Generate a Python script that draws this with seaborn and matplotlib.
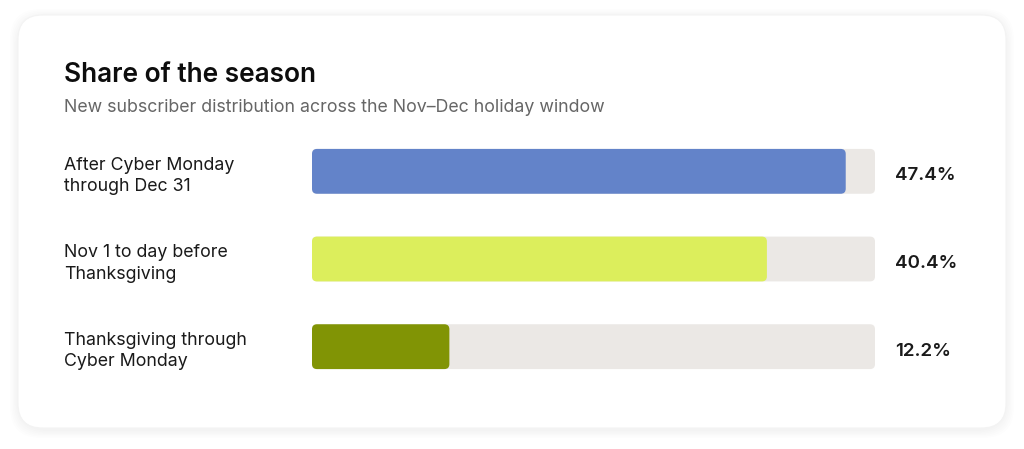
import matplotlib
matplotlib.use("Agg")
import matplotlib.pyplot as plt
import matplotlib.transforms as mtransforms
from matplotlib.patches import FancyBboxPatch
import pandas as pd
import seaborn as sns

# data
categories = ["After Cyber Monday\nthrough Dec 31",
              "Nov 1 to day before\nThanksgiving",
              "Thanksgiving through\nCyber Monday"]
shares = [47.4, 40.4, 12.2]
bar_colors = ["#6383c9", "#dcee5c", "#819405"]
track_max = 50

title = "Share of the season"
subtitle = "New subscriber distribution across the Nov\u2013Dec holiday window"

sns.set_theme(style="white")
plt.rcParams["font.family"] = ["Inter", "DejaVu Sans"]

W, H = 1024, 449
fig = plt.figure(figsize=(W / 100, H / 100), dpi=100)
fig.patch.set_facecolor("white")

# card with soft shadow
for i in range(6):
    g = 8 - i * 1.4
    sh = FancyBboxPatch(((18 - g) / W, (449 - 428 - g - 2) / H), (988 + 2 * g) / W, (413 + 2 * g) / H,
                        boxstyle="round,pad=0,rounding_size=0.03", mutation_aspect=W / H,
                        transform=fig.transFigure, facecolor="black", edgecolor="none",
                        alpha=0.006, zorder=-3)
    fig.patches.append(sh)
card = FancyBboxPatch((18 / W, (449 - 428) / H), 988 / W, 413 / H,
                      boxstyle="round,pad=0,rounding_size=0.024", mutation_aspect=W / H,
                      transform=fig.transFigure, facecolor="white", edgecolor="#f3f3f3",
                      linewidth=0.8, zorder=-2)
fig.patches.append(card)

# axes for bars
left, right = 312, 875
top_c, bot_c = 171.5 - 44, 346.5 + 44
ax = fig.add_axes([left / W, (H - bot_c) / H, (right - left) / W, (bot_c - top_c) / H])
ax.set_facecolor("none")
ax.set_zorder(2)

df = pd.DataFrame({"cat": categories, "share": shares,
                   "track": [track_max] * len(categories)})
bw = 45 / 88
sns.barplot(data=df, x="track", y="cat", color="#ebe8e5", width=bw, ax=ax,
            orient="h", saturation=1)
sns.barplot(data=df, x="share", y="cat", hue="cat", palette=bar_colors, width=bw,
            ax=ax, orient="h", saturation=1, legend=False)
ax.set_xlim(0, track_max)
ax.set_ylim(2.5, -0.5)

# swap rectangles for rounded ones
px_x = (right - left) / track_max
px_y = 88.0
rad = 5.0
for p in list(ax.patches):
    x0, y0 = p.get_x(), p.get_y()
    w, h = p.get_width(), p.get_height()
    fb = FancyBboxPatch((x0, y0), w, h,
                        boxstyle=f"round,pad=0,rounding_size={rad / px_x}",
                        mutation_aspect=px_x / px_y,
                        facecolor=p.get_facecolor(), edgecolor="none", zorder=p.get_zorder())
    p.remove()
    ax.add_patch(fb)

ax.set_axis_off()

# text
fig.text(64 / W, 1 - 75 / H, title, fontsize=18.9, fontweight="semibold",
         color="#0d0d0d", va="center", ha="left")
fig.text(64 / W, 1 - 108 / H, subtitle, fontsize=12.8, color="#666666",
         va="center", ha="left")

blend = mtransforms.blended_transform_factory(fig.transFigure, ax.transData)
off = 4.5 / px_y
for i, (c, v) in enumerate(zip(categories, shares)):
    ax.text(64 / W, i + off, c, transform=blend, fontsize=12.8, color="#1a1a1a",
            va="center", ha="left", linespacing=1.32, clip_on=False)
    ax.text(895 / W, i + off, f"{v:.1f}%", transform=blend, fontsize=13.5,
            fontweight="semibold", color="#1a1a1a", va="center", ha="left",
            clip_on=False)

fig.savefig("out.png", dpi=100, facecolor=fig.get_facecolor())
